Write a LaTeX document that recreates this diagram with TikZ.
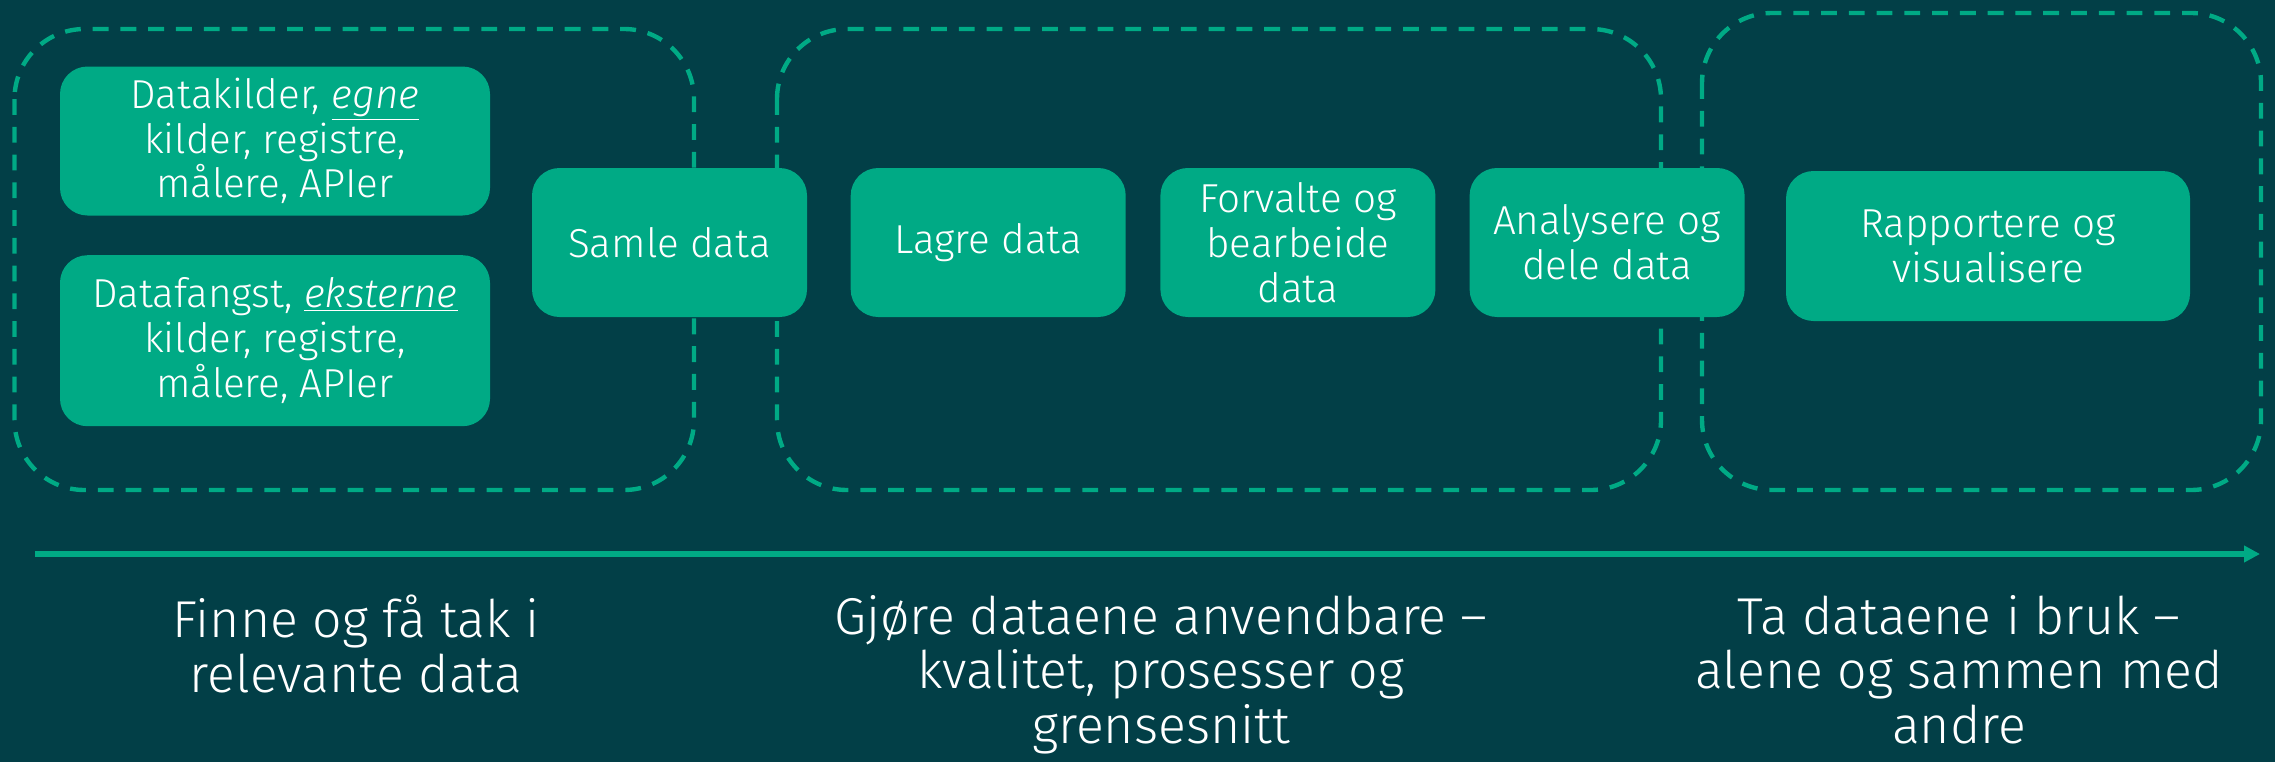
\documentclass[tikz,border=0pt]{standalone}
\usepackage{fontspec}
\setmainfont{Fira Sans}[UprightFont={* Light}, ItalicFont={* Light Italic}]
\usepackage{xcolor}
\definecolor{flowBg}{HTML}{023F47}
\definecolor{flowGreen}{HTML}{00AA85}
\usetikzlibrary{arrows.meta,positioning}
\tikzset{
    stepbox/.style={
        fill=flowGreen,
        rectangle,
        rounded corners=0.55cm,
        align=center,
        minimum height=2.98cm,
        minimum width=5.5cm,
        inner sep=2pt,
        text=white,
        font=\fontsize{23}{25.5}\selectfont
    },
    phase/.style={
        draw=flowGreen,
        line width=2.5pt,
        dash pattern=on 9pt off 6.8pt,
        rounded corners=1.4cm
    },
    timeline/.style={
        -{Triangle[length=9pt,width=9pt]},
        line width=3pt,
        color=flowGreen
    },
    phaselabel/.style={
        anchor=north,
        align=center,
        inner sep=0pt,
        text=white,
        font=\fontsize{29.5}{31}\selectfont
    }
}

\begin{document}
\begin{tikzpicture}
    \useasboundingbox (0,0) rectangle (45.5,-15.24);
    \fill[flowBg] (0,0) rectangle (45.5,-15.24);
    % phases
    \draw[phase] (0.29,-0.58) rectangle (13.88,-9.8);
    \draw[phase] (15.54,-0.58) rectangle (33.22,-9.8);
    \draw[phase] (34.04,-0.26) rectangle (45.22,-9.8);

    \node[stepbox, minimum width=8.6cm] (egne) at (5.5,-2.82) {Datakilder, \underline{\textit{egne}}\\kilder, registre,\\målere, APIer};
    \node[stepbox, minimum width=8.6cm, minimum height=3.42cm, below=0.78cm of egne] (eksterne) {Datafangst, \underline{\textit{eksterne}}\\kilder, registre,\\målere, APIer};
    \node[stepbox] (samle) at (13.39,-4.85) {Samle data};
    \node[stepbox, right=0.86cm of samle] (lagre) {Lagre data};
    \node[stepbox, right=0.68cm of lagre] (forvalte) {Forvalte og\\bearbeide\\data};
    \node[stepbox, right=0.67cm of forvalte] (analysere) {Analysere og\\dele data};
    \node[stepbox, minimum width=8.08cm, minimum height=3cm] (rapport) at (39.76,-4.92) {Rapportere og\\visualisere};

    \coordinate (start) at (0.7,-11.08);
    \coordinate (end) at (45.2,-11.08);
    \draw[timeline] (start) -- (end);

    \node[phaselabel] (finne) at (7.12,-11.9) {Finne og få tak i\\relevante data};
    \node[phaselabel] (gjore) at (23.22,-11.9) {Gjøre dataene anvendbare –\\kvalitet, prosesser og\\grensesnitt};
    \node[phaselabel] (bruk) at (39.18,-11.9) {Ta dataene i bruk –\\alene og sammen med\\andre};
\end{tikzpicture}
\end{document}
